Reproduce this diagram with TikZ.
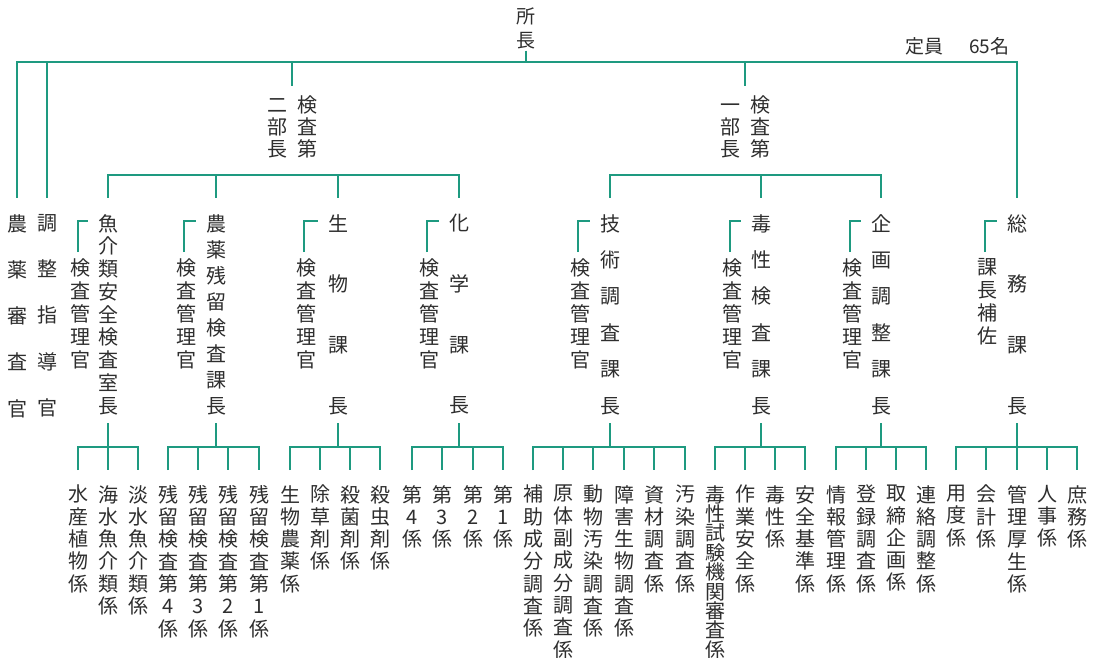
\documentclass[tikz,border=0pt]{standalone}
\usepackage{fontspec}
\newfontfamily\cjk{Noto Sans CJK JP}
\definecolor{teal1}{HTML}{1E9A80}
\definecolor{ink}{HTML}{2E2E2E}
\newcommand\tightls{\lineskiplimit=-40pt\relax}
\tikzset{
  ln/.style={draw=teal1, line width=2.4pt, line join=miter},
  vcol/.style={font={\cjk\fontsize{20}{#1}\selectfont\tightls}, align=center, inner sep=0pt, anchor=north, text=ink},
  vcol/.default=22.3
}
\newcommand\grp[3]{%
  \draw[ln] (#1 |- 0,423) -- (#1 |- 0,447);
  \draw[ln] (#2 |- 0,470) -- (#2 |- 0,447) -- (#3 |- 0,447) -- (#3 |- 0,470);}
\begin{document}
\begin{tikzpicture}[x=1pt,y=-1pt]
\useasboundingbox[fill=white] (0,0) rectangle (1101,658);
% top
\node[vcol=24, font={\cjk\fontsize{19}{24}\selectfont}] (ceo) at (526,8) {所\\長};
\node[anchor=west, inner sep=0pt, text=ink, font={\cjk\fontsize{19}{19}\selectfont}] (cap) at (905,46) {定員\hspace{26pt}65名};
\node[vcol=22] (d2) at (292,96) {二\hspace{10pt}検\\部\hspace{10pt}査\\長\hspace{10pt}第};
\node[vcol=22] (d1) at (745,96) {一\hspace{10pt}検\\部\hspace{10pt}査\\長\hspace{10pt}第};
% level 2
\node[vcol=46.25] (agri) at (17,214) {農\\薬\\審\\査\\官};
\node[vcol=46.25] (adj) at (47,214) {調\\整\\指\\導\\官};
\node[vcol=22.75] (fish) at (108,214) {魚\\介\\類\\安\\全\\検\\査\\室\\長};
\node[vcol=23] (fishK) at (80,258) {検\\査\\管\\理\\官};
\node[vcol=26] (pest) at (216,214) {農\\薬\\残\\留\\検\\査\\課\\長};
\node[vcol=23] (pestK) at (186,258) {検\\査\\管\\理\\官};
\node[vcol=60.7] (bio) at (338,214) {生\\物\\課\\長};
\node[vcol=23] (bioK) at (306,258) {検\\査\\管\\理\\官};
\node[vcol=60.7] (chem) at (459,214) {化\\学\\課\\長};
\node[vcol=23] (chemK) at (429,258) {検\\査\\管\\理\\官};
\node[vcol=36.4] (tech) at (610,214) {技\\術\\調\\査\\課\\長};
\node[vcol=23] (techK) at (580,258) {検\\査\\管\\理\\官};
\node[vcol=36.4] (tox) at (761,214) {毒\\性\\検\\査\\課\\長};
\node[vcol=23] (toxK) at (732,258) {検\\査\\管\\理\\官};
\node[vcol=36.4] (plan) at (881,214) {企\\画\\調\\整\\課\\長};
\node[vcol=23] (planK) at (852,258) {検\\査\\管\\理\\官};
\node[vcol=60.7] (gen) at (1017,214) {総\\務\\課\\長};
\node[vcol=23] (genK) at (987,258) {課\\長\\補\\佐};
% bottom
\node[vcol] (f1) at (78,485) {水\\産\\植\\物\\係};
\node[vcol] (f2) at (108,485) {海\\水\\魚\\介\\類\\係};
\node[vcol] (f3) at (138,485) {淡\\水\\魚\\介\\類\\係};
\node[vcol] (p1) at (168,485) {残\\留\\検\\査\\第\\4\\係};
\node[vcol] (p2) at (198,485) {残\\留\\検\\査\\第\\3\\係};
\node[vcol] (p3) at (228,485) {残\\留\\検\\査\\第\\2\\係};
\node[vcol] (p4) at (259,485) {残\\留\\検\\査\\第\\1\\係};
\node[vcol] (b1) at (290,485) {生\\物\\農\\薬\\係};
\node[vcol] (b2) at (320,485) {除\\草\\剤\\係};
\node[vcol] (b3) at (350,485) {殺\\菌\\剤\\係};
\node[vcol] (b4) at (380,485) {殺\\虫\\剤\\係};
\node[vcol] (c1) at (412,485) {第\\4\\係};
\node[vcol] (c2) at (442,485) {第\\3\\係};
\node[vcol] (c3) at (473,485) {第\\2\\係};
\node[vcol] (c4) at (503,485) {第\\1\\係};
\node[vcol] (t1) at (533,485) {補\\助\\成\\分\\調\\査\\係};
\node[vcol] (t2) at (563,485) {原\\体\\副\\成\\分\\調\\査\\係};
\node[vcol] (t3) at (593,485) {動\\物\\汚\\染\\調\\査\\係};
\node[vcol] (t4) at (624,485) {障\\害\\生\\物\\調\\査\\係};
\node[vcol] (t5) at (654,485) {資\\材\\調\\査\\係};
\node[vcol] (t6) at (685,485) {汚\\染\\調\\査\\係};
\node[vcol=19.4] (x1) at (715,485) {毒\\性\\試\\験\\機\\関\\審\\査\\係};
\node[vcol] (x2) at (745,485) {作\\業\\安\\全\\係};
\node[vcol] (x3) at (775,485) {毒\\性\\係};
\node[vcol] (x4) at (805,485) {安\\全\\基\\準\\係};
\node[vcol] (q1) at (836,485) {情\\報\\管\\理\\係};
\node[vcol] (q2) at (866,485) {登\\録\\調\\査\\係};
\node[vcol] (q3) at (896,485) {取\\締\\企\\画\\係};
\node[vcol] (q4) at (926,485) {連\\絡\\調\\整\\係};
\node[vcol] (g1) at (956,485) {用\\度\\係};
\node[vcol] (g2) at (986,485) {会\\計\\係};
\node[vcol] (g3) at (1017,485) {管\\理\\厚\\生\\係};
\node[vcol] (g4) at (1047,485) {人\\事\\係};
\node[vcol] (g5) at (1077,485) {庶\\務\\係};
% connectors: top
\draw[teal1, line width=1.2pt] ([yshift=-1pt]ceo.south) -- (ceo |- 0,62);
\draw[ln] (agri |- 0,198) -- (agri |- 0,62) -- (gen |- 0,62) -- (gen |- 0,198);
\draw[ln] (adj |- 0,62) -- (adj |- 0,198);
\draw[ln] (d2 |- 0,62) -- (d2 |- 0,86);
\draw[ln] (d1 |- 0,62) -- (d1 |- 0,86);
% department lines
\draw[ln] (fish |- 0,198) -- (fish |- 0,175) -- (chem |- 0,175) -- (chem |- 0,198);
\foreach \s in {pest,bio} \draw[ln] (\s |- 0,175) -- (\s |- 0,198);
\draw[ln] (tech |- 0,198) -- (tech |- 0,175) -- (plan |- 0,175) -- (plan |- 0,198);
\draw[ln] (tox |- 0,175) -- (tox |- 0,198);
% staff brackets
\foreach \k/\s in {fishK/fish,pestK/pest,bioK/bio,chemK/chem,techK/tech,toxK/tox,planK/plan,genK/gen}
  \draw[ln] ([xshift=-2pt,yshift=6pt]\k.north) |- ([xshift=-20pt,yshift=-7pt]\s.north);
% bottom groups
\grp{fish}{f1}{f3}
\grp{pest}{p1}{p4}
\grp{bio}{b1}{b4}
\grp{chem}{c1}{c4}
\grp{tech}{t1}{t6}
\grp{tox}{x1}{x4}
\grp{plan}{q1}{q4}
\grp{gen}{g1}{g5}
\foreach \c in {f2,p2,p3,b2,b3,c2,c3,t2,t3,t4,t5,x2,x3,q2,q3,g2,g3,g4}
  \draw[ln] (\c |- 0,447) -- (\c |- 0,470);
\end{tikzpicture}
\end{document}
